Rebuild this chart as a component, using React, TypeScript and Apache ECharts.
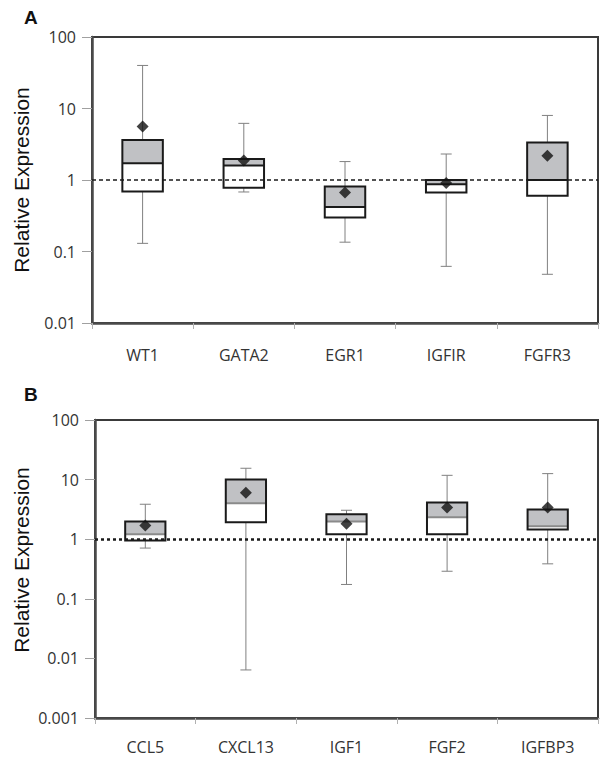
import React, { useEffect, useRef } from "react";
import * as echarts from "echarts";

const catsA = ["WT1", "GATA2", "EGR1", "IGFIR", "FGFR3"];
const lowA = [0.13, 0.68, 0.135, 0.062, 0.048];
const q1A = [0.69, 0.78, 0.3, 0.67, 0.6];
const medA = [1.71, 1.59, 0.42, 0.87, 1.0];
const q3A = [3.64, 1.97, 0.81, 1.0, 3.34];
const highA = [40, 6.2, 1.81, 2.31, 8.0];
const meanA = [5.6, 1.87, 0.67, 0.91, 2.19];

const catsB = ["CCL5", "CXCL13", "IGF1", "FGF2", "IGFBP3"];
const lowB = [0.71, 0.0064, 0.174, 0.29, 0.386];
const q1B = [0.95, 1.93, 1.21, 1.21, 1.45];
const medB = [1.21, 4.0, 1.98, 2.34, 1.65];
const q3B = [1.98, 10, 2.62, 4.12, 3.14];
const highB = [3.86, 15.5, 3.06, 11.8, 12.6];
const meanB = [1.69, 6.0, 1.81, 3.4, 3.4];

const yTicksA = [0.01, 0.1, 1, 10, 100];
const yTicksB = [0.001, 0.01, 0.1, 1, 10, 100];

const FONT = "'Open Sans', 'DejaVu Sans', sans-serif";

function boxData(cats: string[], lo: number[], q1: number[], med: number[], q3: number[], hi: number[]) {
  return cats.map((_, i) => [i, lo[i], q1[i], med[i], q3[i], hi[i]]);
}

function makeRender(medianColor: string) {
  return (params: any, api: any) => {
    const idx = api.value(0);
    const pLo = api.coord([idx, api.value(1)]);
    const pQ1 = api.coord([idx, api.value(2)]);
    const pMed = api.coord([idx, api.value(3)]);
    const pQ3 = api.coord([idx, api.value(4)]);
    const pHi = api.coord([idx, api.value(5)]);
    const band = api.size([1, 1])[0];
    const bw = band * 0.4;
    const cap = 11;
    const x = pQ1[0];
    const wStyle = { stroke: "#808080", lineWidth: 1 };
    return {
      type: "group",
      children: [
        { type: "line", shape: { x1: x, y1: pHi[1], x2: x, y2: pLo[1] }, style: wStyle },
        { type: "line", shape: { x1: x - cap / 2, y1: pHi[1], x2: x + cap / 2, y2: pHi[1] }, style: wStyle },
        { type: "line", shape: { x1: x - cap / 2, y1: pLo[1], x2: x + cap / 2, y2: pLo[1] }, style: wStyle },
        { type: "rect", shape: { x: x - bw / 2, y: pMed[1], width: bw, height: pQ1[1] - pMed[1] }, style: { fill: "#ffffff" } },
        { type: "rect", shape: { x: x - bw / 2, y: pQ3[1], width: bw, height: pMed[1] - pQ3[1] }, style: { fill: "#c0c1c4" } },
        { type: "line", shape: { x1: x - bw / 2, y1: pMed[1], x2: x + bw / 2, y2: pMed[1] }, style: { stroke: medianColor, lineWidth: 2 } },
        { type: "rect", shape: { x: x - bw / 2, y: pQ3[1], width: bw, height: pQ1[1] - pQ3[1] }, style: { fill: "none", stroke: "#1a1a1a", lineWidth: 2 } },
      ],
    };
  };
}

const fmt = (v: number) => String(parseFloat(Number(v).toPrecision(6)));

function yAxis(gridIndex: number, min: number) {
  return {
    type: "log",
    logBase: 10,
    gridIndex,
    min,
    max: 100,
    axisLine: { show: true, lineStyle: { color: "#4a4a4a", width: 2.5 } },
    axisTick: { show: true, inside: false, length: 10, lineStyle: { color: "#a0a0a0", width: 1 } },
    axisLabel: { color: "#333", fontSize: 16, fontFamily: FONT, margin: 16, formatter: fmt },
    splitLine: { show: false },
    minorTick: { show: false },
  };
}

function xAxis(gridIndex: number, cats: string[], margin: number) {
  return {
    type: "category",
    gridIndex,
    data: cats,
    boundaryGap: true,
    axisLine: { show: true, lineStyle: { color: "#4a4a4a", width: 2.5 } },
    axisTick: { show: true, alignWithLabel: false, length: 6, lineStyle: { color: "#b0b0b0", width: 1 } },
    axisLabel: { color: "#333", fontSize: 16, fontFamily: FONT, margin, interval: 0 },
    splitLine: { show: false },
  };
}

function markLine(width: number, dash: number[]) {
  return {
    silent: true,
    symbol: "none",
    label: { show: false },
    lineStyle: { color: "#1a1a1a", width, type: dash },
    data: [{ yAxis: 1 }],
  };
}

export default function App() {
  const ref = useRef<HTMLDivElement>(null);
  useEffect(() => {
    if (!ref.current) return;
    const chart = echarts.init(ref.current, null, { renderer: "svg" });
    const gridStyle = { show: true, borderColor: "#3a3a3a", borderWidth: 2, backgroundColor: "transparent" };
    chart.setOption({
      animation: false,
      backgroundColor: "#ffffff",
      grid: [
        { left: 92, top: 37, width: 506, height: 286, ...gridStyle },
        { left: 95, top: 420, width: 503, height: 298, ...gridStyle },
      ],
      xAxis: [xAxis(0, catsA, 24), xAxis(1, catsB, 21)],
      yAxis: [yAxis(0, 0.01), yAxis(1, 0.001)],
      series: [
        {
          type: "custom",
          xAxisIndex: 0,
          yAxisIndex: 0,
          z: 2,
          renderItem: makeRender("#1a1a1a"),
          data: boxData(catsA, lowA, q1A, medA, q3A, highA),
          encode: { x: 0, y: [1, 2, 3, 4, 5] },
        },
        {
          type: "scatter",
          xAxisIndex: 0,
          yAxisIndex: 0,
          z: 5,
          symbol: "diamond",
          symbolSize: 12,
          itemStyle: { color: "#111" },
          data: meanA.map((v, i) => [i, v]),
          markLine: markLine(1.5, [4, 3]),
        },
        {
          type: "custom",
          xAxisIndex: 1,
          yAxisIndex: 1,
          z: 2,
          renderItem: makeRender("#8a8a8a"),
          data: boxData(catsB, lowB, q1B, medB, q3B, highB),
          encode: { x: 0, y: [1, 2, 3, 4, 5] },
        },
        {
          type: "scatter",
          xAxisIndex: 1,
          yAxisIndex: 1,
          z: 5,
          symbol: "diamond",
          symbolSize: 12,
          itemStyle: { color: "#111" },
          data: meanB.map((v, i) => [i, v]),
          markLine: markLine(2.5, [3, 3]),
        },
      ],
      graphic: [
        { type: "text", x: 24, y: 17, style: { text: "A", font: "bold 19px 'Liberation Sans', Arial, sans-serif", fill: "#111", verticalAlign: "middle", align: "left" } },
        { type: "text", x: 24, y: 394, style: { text: "B", font: "bold 19px 'Liberation Sans', Arial, sans-serif", fill: "#111", verticalAlign: "middle", align: "left" } },
        { type: "text", x: 21, y: 180, rotation: Math.PI / 2, style: { text: "Relative Expression", font: "21px 'Liberation Sans', Arial, sans-serif", fill: "#111", align: "center", verticalAlign: "middle" } },
        { type: "text", x: 21, y: 560, rotation: Math.PI / 2, style: { text: "Relative Expression", font: "21px 'Liberation Sans', Arial, sans-serif", fill: "#111", align: "center", verticalAlign: "middle" } },
      ],
    });
    return () => chart.dispose();
  }, []);
  return <div ref={ref} style={{ position: "fixed", left: 0, top: 0, width: 600, height: 763 }} />;
}
